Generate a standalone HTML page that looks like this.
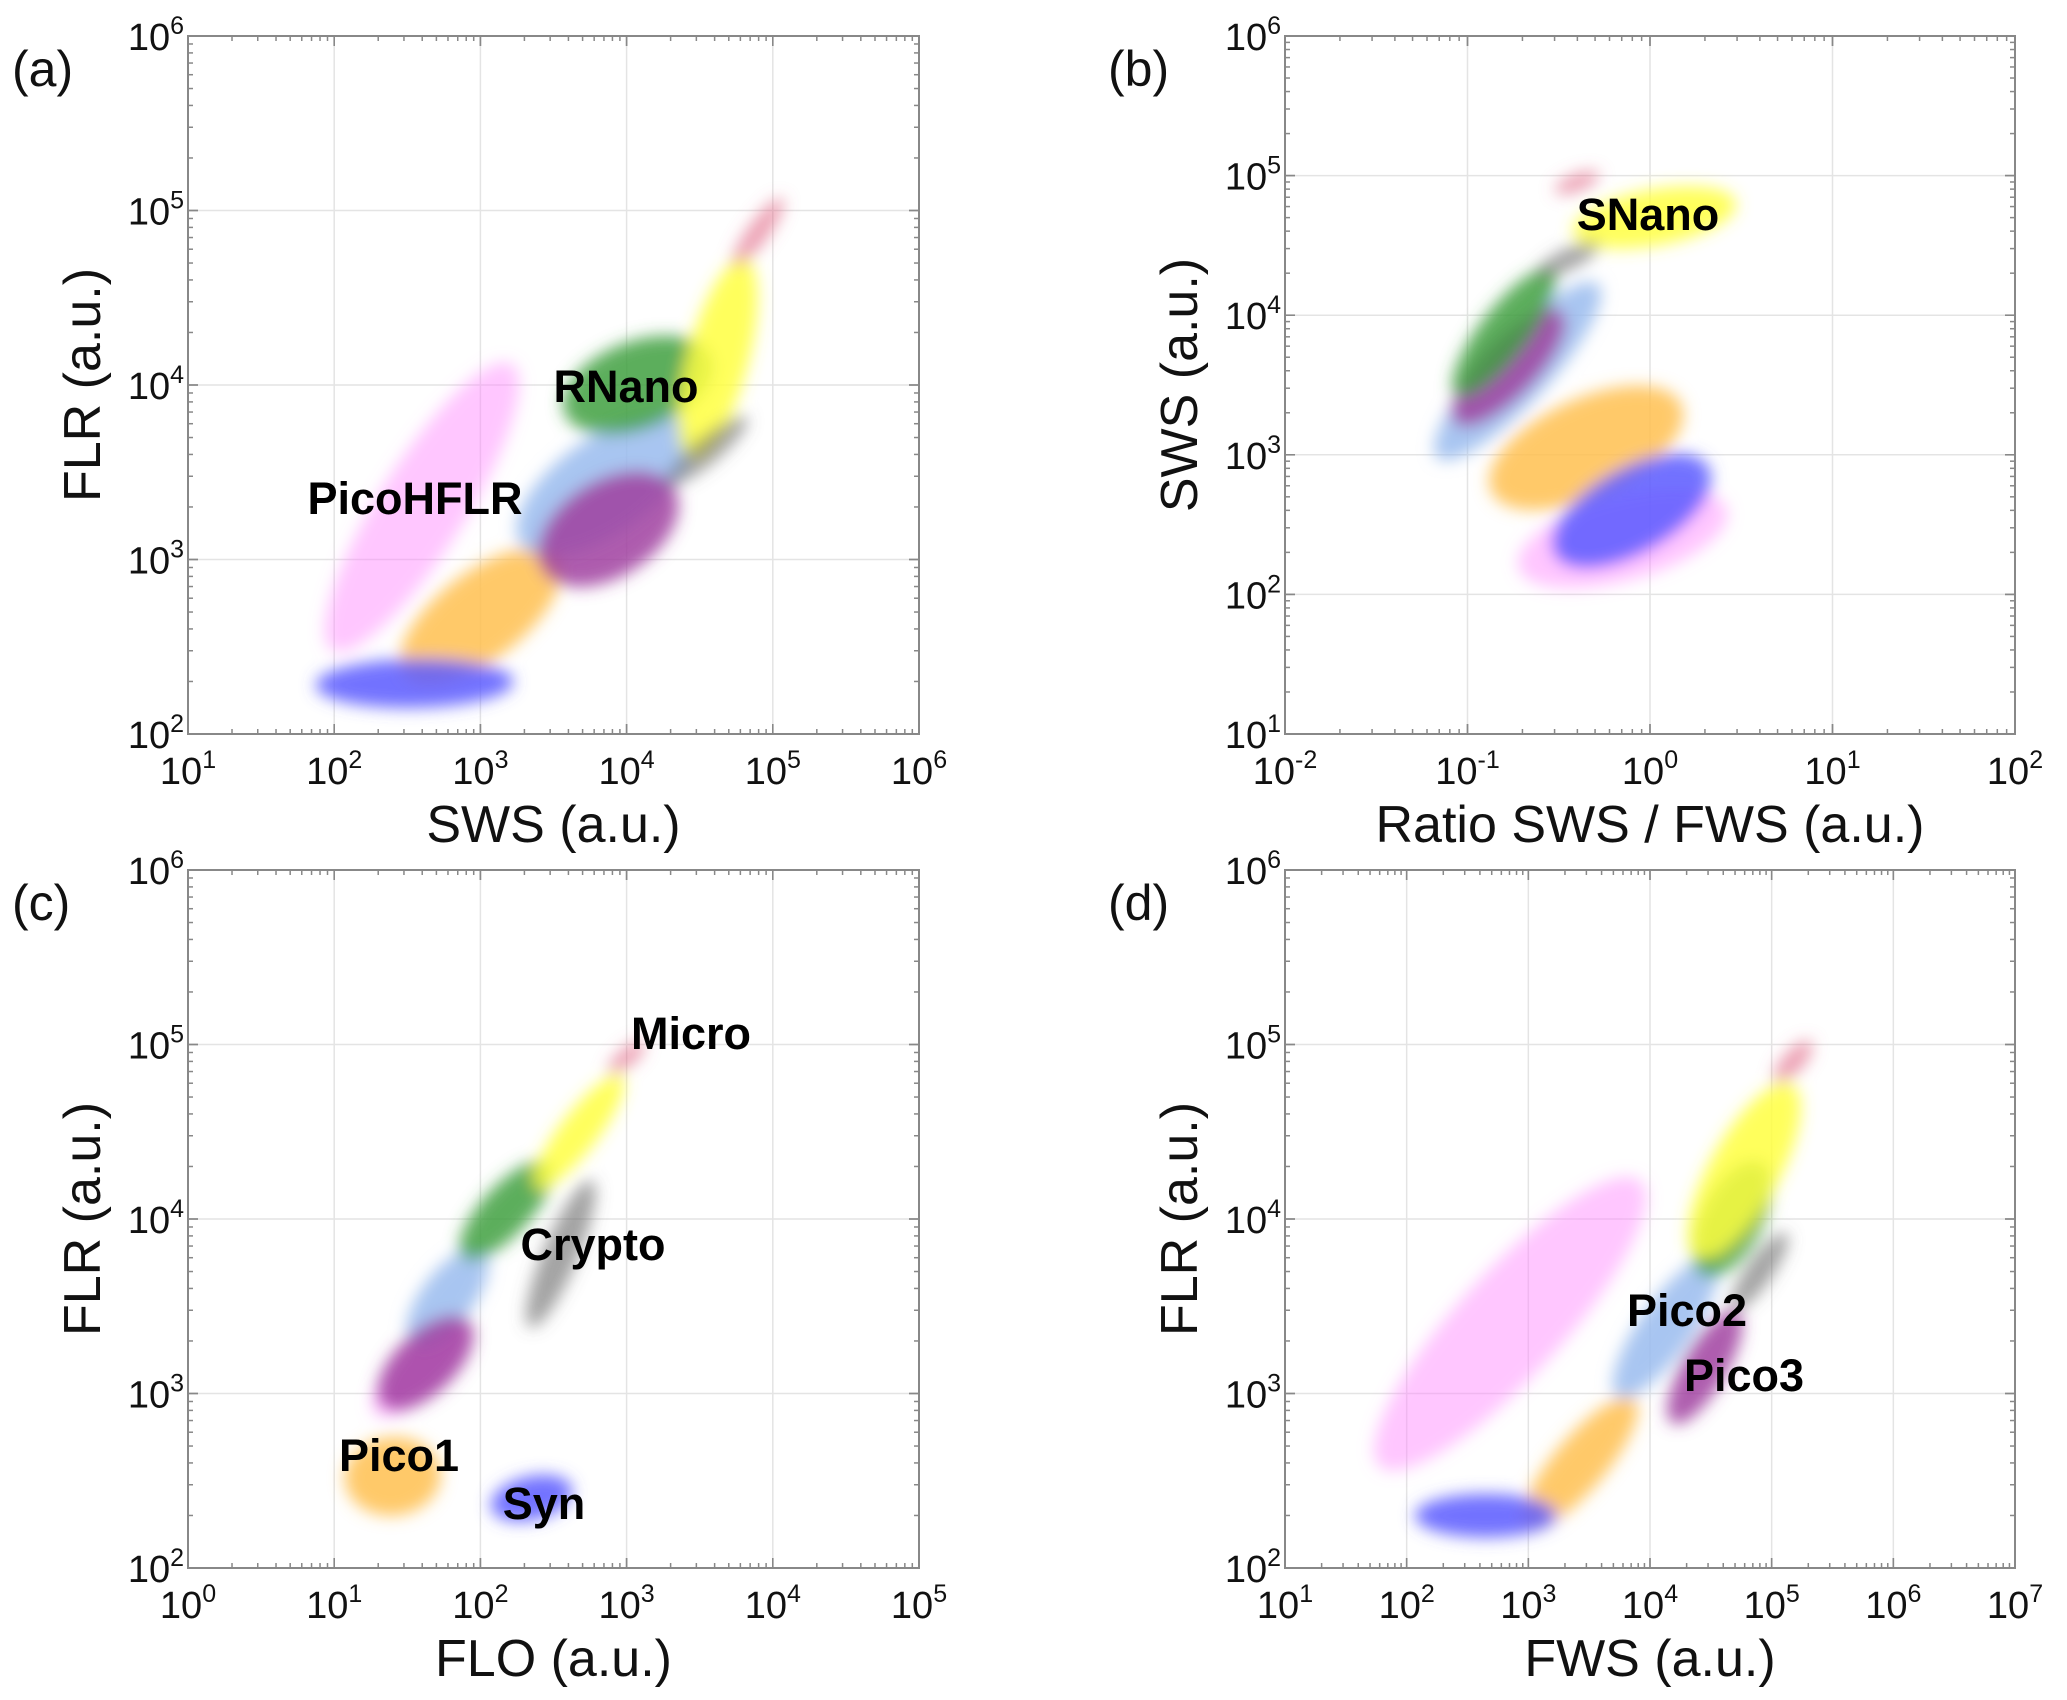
<!DOCTYPE html>
<html><head><meta charset="utf-8">
<style>
html,body{margin:0;padding:0;background:#fff;}
svg{display:block;font-family:"Liberation Sans",sans-serif;}
</style></head>
<body>
<svg id="fig" width="2067" height="1700" viewBox="0 0 2067 1700" xmlns="http://www.w3.org/2000/svg">
<defs>
<filter id="blur" x="-50%" y="-50%" width="200%" height="200%"><feGaussianBlur stdDeviation="8"/></filter>
</defs>
</svg>
<script>
// ---------- data (log10 values) ----------
const clusterNames = ["PicoHFLR","Pico1","Syn","Pico2","Pico3","RNano","SNano","Crypto","Micro"];
const clusterColors = ["#ff80ff","#ffbf50","#5a5aff","#99bbee","#a040a0","#40a040","#ffff40","#666666","#e06080"];
const clusterOpacity = [0.45,0.85,0.85,0.85,0.85,0.85,0.85,0.6,0.6];
// Panel a: SWS vs FLR
const aX1 = [2.0, 2.5, 1.9, 3.3, 3.45, 3.6, 4.45, 4.3, 4.75];
const aY1 = [2.5, 2.35, 2.28, 3.1, 2.95, 3.85, 3.6, 3.45, 4.7];
const aX2 = [3.2, 3.5, 3.2, 4.4, 4.3, 4.55, 4.8, 4.8, 5.05];
const aY2 = [4.1, 3.0, 2.3, 3.75, 3.4, 4.15, 4.7, 3.8, 5.05];
const aW  = [0.5, 0.5, 0.28, 0.55, 0.55, 0.5, 0.35, 0.15, 0.12];
// Panel b: Ratio SWS/FWS vs SWS
const bX1 = [-0.7, -0.85, -0.5, -1.15, -1.05, -1.05, -0.4, -0.6, -0.5];
const bY1 = [2.2, 2.75, 2.3, 3.0, 3.25, 3.45, 4.6, 4.3, 4.9];
const bX2 = [0.4, 0.15, 0.3, -0.3, -0.5, -0.55, 0.45, -0.3, -0.3];
const bY2 = [2.6, 3.35, 2.9, 4.2, 4.0, 4.3, 4.8, 4.5, 5.0];
const bW  = [0.6, 0.7, 0.6, 0.45, 0.4, 0.35, 0.4, 0.15, 0.12];
// Panel c: FLO vs FLR
const cX1 = [1.3, 1.1, 2.1, 1.55, 1.35, 1.9, 2.4, 2.35, 2.9];
const cY1 = [2.9, 2.5, 2.35, 3.3, 2.95, 3.8, 4.2, 3.4, 4.85];
const cX2 = [1.9, 1.7, 2.6, 2.0, 1.9, 2.45, 2.95, 2.75, 3.1];
const cY2 = [3.4, 2.55, 2.45, 3.8, 3.4, 4.3, 4.8, 4.2, 5.0];
const cW  = [0.3, 0.45, 0.25, 0.3, 0.35, 0.28, 0.22, 0.2, 0.1];
// Panel d: FWS vs FLR
const dX1 = [1.8, 3.0, 2.1, 3.75, 4.2, 4.45, 4.4, 4.7, 5.05];
const dY1 = [2.6, 2.25, 2.3, 3.0, 2.85, 3.7, 3.8, 3.5, 4.8];
const dX2 = [3.9, 3.85, 3.2, 4.5, 4.7, 4.9, 5.15, 5.1, 5.3];
const dY2 = [4.2, 2.95, 2.3, 3.75, 3.45, 4.3, 4.75, 3.9, 5.0];
const dW  = [0.6, 0.3, 0.25, 0.3, 0.25, 0.35, 0.4, 0.15, 0.12];

const aXTicks = [1,2,3,4,5,6], aYTicks = [2,3,4,5,6];
const bXTicks = [-2,-1,0,1,2], bYTicks = [1,2,3,4,5,6];
const cXTicks = [0,1,2,3,4,5], cYTicks = [2,3,4,5,6];
const dXTicks = [1,2,3,4,5,6,7], dYTicks = [2,3,4,5,6];

const NS = "http://www.w3.org/2000/svg";
const svg = document.getElementById('fig');
function mk(tag, attrs, parent){const e=document.createElementNS(NS,tag);for(const k in attrs)e.setAttribute(k,attrs[k]);(parent||svg).appendChild(e);return e;}

function panel(opt){
  const g = mk('g',{});
  
  
  const L=opt.L,R=opt.R,T=opt.T,B=opt.B;
  const xmin=opt.xt[0], xmax=opt.xt[opt.xt.length-1];
  const ymin=opt.yt[0], ymax=opt.yt[opt.yt.length-1];
  const sx=v=>L+(v-xmin)/(xmax-xmin)*(R-L);
  const sy=v=>B-(v-ymin)/(ymax-ymin)*(B-T);
  opt.xt.forEach(t=>{const l=mk('line',{x1:sx(t),x2:sx(t),y1:T,y2:B,stroke:'#e4e4e4','stroke-width':1.5},g);
    });
  opt.yt.forEach(t=>{const l=mk('line',{x1:L,x2:R,y1:sy(t),y2:sy(t),stroke:'#e4e4e4','stroke-width':1.5},g);
    });
  const cg = mk('g',{filter:'url(#blur)'},g);
  
  
  for(let i=0;i<clusterNames.length;i++){
    const x1=sx(opt.x1[i]),y1=sy(opt.y1[i]),x2=sx(opt.x2[i]),y2=sy(opt.y2[i]);
    const cx=(x1+x2)/2, cy=(y1+y2)/2;
    const len=Math.hypot(x2-x1,y2-y1)/2;
    const ang=Math.atan2(y2-y1,x2-x1)*180/Math.PI;
    const w=opt.w[i]*(B-T)/(ymax-ymin)/2;
    const e=mk('ellipse',{cx:cx,cy:cy,rx:Math.max(len,w)+4,ry:w,fill:clusterColors[i],'fill-opacity':clusterOpacity[i],transform:`rotate(${ang} ${cx} ${cy})`},cg);
    
    
  }
  const fr=mk('rect',{x:L,y:T,width:R-L,height:B-T,fill:'none',stroke:'#888','stroke-width':2},g);
  
  const tk=mk('g',{stroke:'#888','stroke-width':1.5},g);
  
  for(let d=xmin; d<xmax; d++) for(let m=1;m<=10;m++){const x=sx(d+Math.log10(m));const len=(m==1||m==10)?10:5;
    mk('line',{x1:x,x2:x,y1:B,y2:B-len},tk);mk('line',{x1:x,x2:x,y1:T,y2:T+len},tk);}
  for(let d=ymin; d<ymax; d++) for(let m=1;m<=10;m++){const y=sy(d+Math.log10(m));const len=(m==1||m==10)?10:5;
    mk('line',{x1:L,x2:L+len,y1:y,y2:y},tk);mk('line',{x1:R,x2:R-len,y1:y,y2:y},tk);}
  opt.xt.forEach(t=>{const tx=mk('text',{x:sx(t),y:B+50,'font-size':38,'text-anchor':'middle',fill:'#111'},g);
    
    tx.innerHTML=`10<tspan dy="-16" font-size="25">${t}</tspan>`;});
  opt.yt.forEach(t=>{const tx=mk('text',{x:L-4,y:sy(t)+14,'font-size':38,'text-anchor':'end',fill:'#111'},g);
    
    tx.innerHTML=`10<tspan dy="-16" font-size="25">${t}</tspan>`;});
  const xt=mk('text',{x:(L+R)/2,y:B+108,'font-size':52,'text-anchor':'middle',fill:'#111'},g);
  xt.textContent=opt.xl;
  const yx=L-88, yy=(T+B)/2;
  const yt=mk('text',{x:yx,y:yy,'font-size':52,'text-anchor':'middle',fill:'#111',transform:`rotate(-90 ${yx} ${yy})`},g);
  yt.textContent=opt.yl;
  const pl=mk('text',{x:opt.px,y:T+50,'font-size':50,fill:'#111'},g);
  pl.textContent='('+opt.id+')';
  opt.labels.forEach(lb=>{const t=mk('text',{x:lb[1],y:lb[2],'font-size':45,'font-weight':'bold','text-anchor':'middle',fill:'#000'},g);
    t.textContent=lb[0];});
}

panel({id:'a',L:188,R:919,T:36,B:734,xt:aXTicks,yt:aYTicks,x1:aX1,y1:aY1,x2:aX2,y2:aY2,w:aW,
  xl:'SWS (a.u.)',yl:'FLR (a.u.)',px:12,labels:[['RNano',626,402],['PicoHFLR',415,514]]});
panel({id:'b',L:1285,R:2015,T:36,B:734,xt:bXTicks,yt:bYTicks,x1:bX1,y1:bY1,x2:bX2,y2:bY2,w:bW,
  xl:'Ratio SWS / FWS (a.u.)',yl:'SWS (a.u.)',px:1108,labels:[['SNano',1648,230]]});
panel({id:'c',L:188,R:919,T:870,B:1568,xt:cXTicks,yt:cYTicks,x1:cX1,y1:cY1,x2:cX2,y2:cY2,w:cW,
  xl:'FLO (a.u.)',yl:'FLR (a.u.)',px:12,labels:[['Micro',691,1049],['Crypto',593,1260],['Pico1',399,1471],['Syn',544,1519]]});
panel({id:'d',L:1285,R:2015,T:870,B:1568,xt:dXTicks,yt:dYTicks,x1:dX1,y1:dY1,x2:dX2,y2:dY2,w:dW,
  xl:'FWS (a.u.)',yl:'FLR (a.u.)',px:1108,labels:[['Pico2',1687,1326],['Pico3',1744,1391]]});
</script>
</body></html>
